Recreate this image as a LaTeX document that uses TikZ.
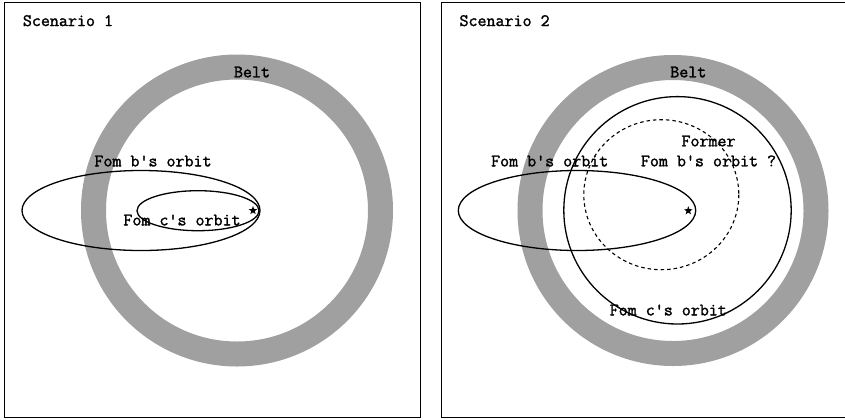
\documentclass[tikz,border=0pt]{standalone}
\usepackage{fontspec}
\newfontfamily\lblfont{Latin Modern Mono}[FakeBold=1.6]
\usetikzlibrary{shapes.geometric}
\definecolor{beltgray}{RGB}{160,160,160}
\begin{document}
\begin{tikzpicture}[x=1bp,y=-1bp,
  frame/.style={draw=black,line width=1.5bp},
  belt/.style={draw=beltgray,line width=25bp},
  orbit/.style={draw=black,line width=1.3bp},
  former/.style={draw=black,line width=1.1bp,dash pattern=on 3.5bp off 3bp},
  lbl/.style={font=\fontsize{17.5bp}{19bp}\lblfont,inner sep=0pt,align=center},
  starmark/.style={star,star points=5,star point ratio=2.4,fill=black,draw=none,minimum size=9bp,inner sep=0pt}]
\useasboundingbox (0,0) rectangle (845,419);
% frames
\draw[frame] (4.7,2.7) rectangle (420.7,417.7);
\draw[frame] (441.3,2.7) rectangle (850,417.7);
% ---- Scenario 1
\draw[belt] (237,210.5) circle[radius=143.5];
\draw[orbit] (141,210.5) ellipse[x radius=119,y radius=40];
\draw[orbit] (198,210.7) ellipse[x radius=61,y radius=20];
\node[starmark] (s1) at (253,210.5) {};
\node[lbl,anchor=west] (sc1) at (22.7,20.7) {Scenario 1};
\node[lbl] (belt1) at (252,72) {Belt};
\node[lbl] (b1) at (153,161) {Fom b's orbit};
\node[lbl] (c1) at (182,220) {Fom c's orbit};
% ---- Scenario 2
\draw[belt] (673,210.5) circle[radius=143];
\draw[orbit] (577,210.5) ellipse[x radius=118.7,y radius=40];
\draw[orbit] (677.5,210.3) circle[radius=113.7];
\draw[former] (661.3,194.7) ellipse[x radius=77.5,y radius=75];
\node[starmark] (s2) at (688.3,210.7) {};
\node[lbl,anchor=west] (sc2) at (459.3,20.7) {Scenario 2};
\node[lbl] (belt2) at (688.3,72) {Belt};
\node[lbl] (b2) at (549.7,161) {Fom b's orbit};
\node[lbl] (f2) at (708.5,151) {Former\\[1bp]Fom b's orbit ?};
\node[lbl] (c2) at (668.3,310) {Fom c's orbit};
\end{tikzpicture}
\end{document}
